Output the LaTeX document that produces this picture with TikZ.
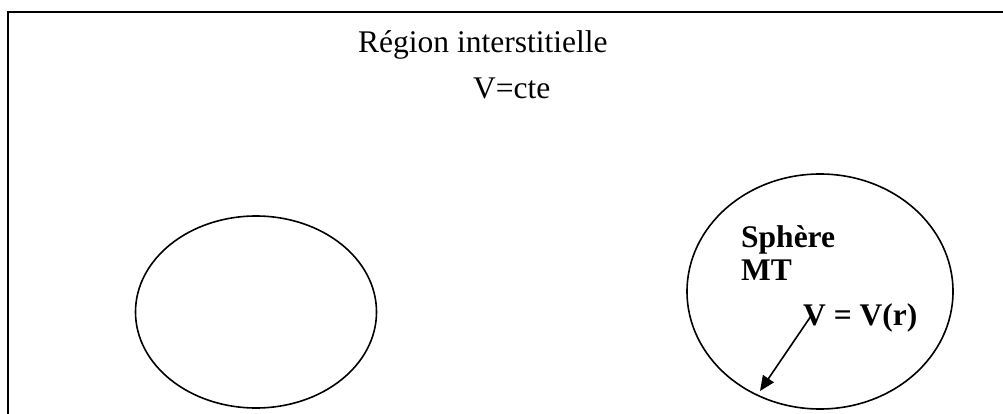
\documentclass[tikz,border=0pt]{standalone}
\usepackage{fontspec}
\setmainfont{Liberation Serif}
\usetikzlibrary{shapes.geometric,arrows.meta}
\tikzset{
  sphere/.style={draw, ellipse, line width=1.6pt, inner sep=0pt},
  lbl/.style={anchor=base west, inner sep=0pt, font=\fontsize{31.5}{38}\selectfont},
  blbl/.style={lbl, font=\fontsize{31.5}{38}\selectfont\bfseries},
  frame/.style={line width=2pt},
  radius arrow/.style={line width=1.6pt, -{Triangle[length=15pt,width=13pt]}}
}
\begin{document}
\begin{tikzpicture}[x=1pt,y=-1pt]
\useasboundingbox (0,0) rectangle (1003,414);
\coordinate (fb) at (7.5,420);
\coordinate (ftl) at (7.5,12);
\coordinate (ftr) at (1010,12);
\draw[frame] (fb) -- (ftl) -- (ftr);
\node[lbl] (region) at (358,53) {Région interstitielle};
\node[lbl] (cte) at (473,99) {V=cte};
\node[sphere, minimum width=241pt, minimum height=192pt] (left) at (256,312) {};
\node[sphere, minimum width=266pt, minimum height=235pt] (right) at (820,291.5) {};
\node[blbl] (sph) at (741,247) {Sphère};
\node[blbl] (mt) at (741,280) {MT};
\node[blbl] (vr) at (803,325) {V = V(r)};
\coordinate (astart) at (811,316);
\coordinate (aend) at (760,391);
\draw[radius arrow] (astart) -- (aend);
\end{tikzpicture}
\end{document}
